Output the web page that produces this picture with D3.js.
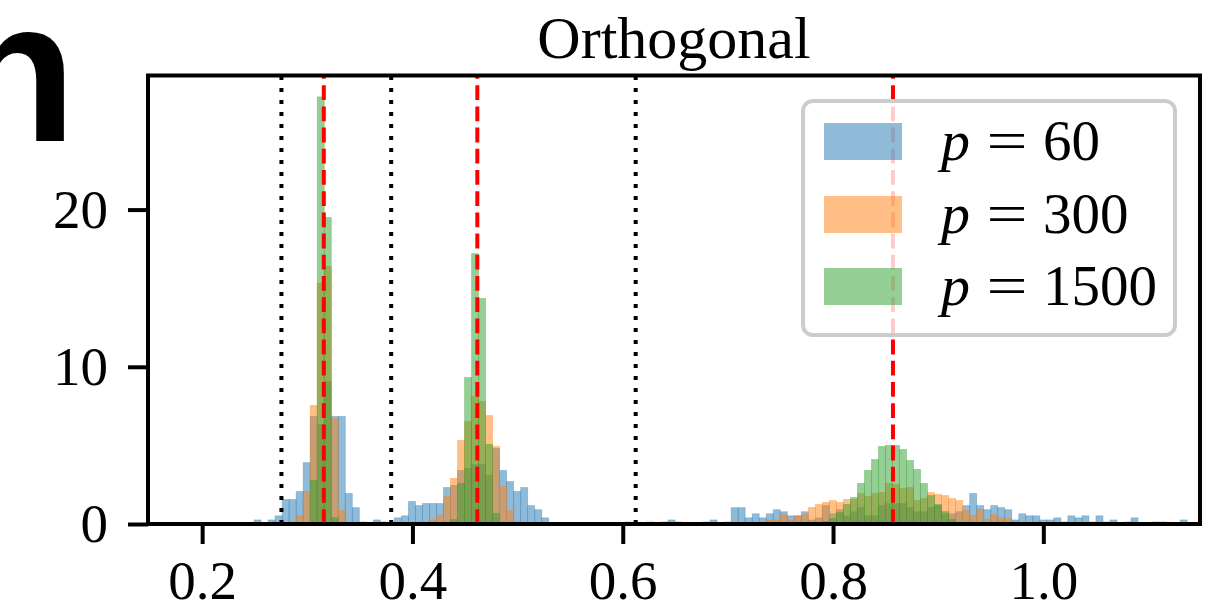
<!DOCTYPE html>
<html>
<head>
<meta charset="utf-8">
<script src="https://cdn.jsdelivr.net/npm/d3@7"></script>
<style>
  html, body { margin: 0; padding: 0; background: #fff; }
  svg { display: block; }
</style>
</head>
<body>
<svg id="chart" width="1220" height="615"></svg>
<script>
// ---------------- data ----------------
const title = "Orthogonal";
const seriesLabels = ["60", "300", "1500"];
const seriesColors = ["#1f77b4", "#ff7f0e", "#2ca02c"];
const xTicks = [0.2, 0.4, 0.6, 0.8, 1.0];
const yTicks = [0, 10, 20];
const xDomain = [0.1485, 1.149];
const yDomain = [0, 28.53];

// common histogram grid
const binLo = 0.2494;
const binW = 0.006672;

// densities, p = 60 (bins from index 0)
const p60Start = 0;
const p60 = [
  0.26, 0, 0.26, 0.52, 1.56, 1.56, 2.07, 3.9, 6.84, 6.33,
  9.06, 6.84, 6.84, 1.94, 1.04, 0.13, 0, 0.26, 0.13, 0,
  0.39, 0.52, 1.43, 1.17, 1.3, 1.3, 1.3, 2.32, 2.45, 3.4,
  3.53, 3.78, 3.78, 3.09, 4.8, 3.4, 2.7, 2.07, 2.32, 1.17,
  0.91, 0.39, 0, 0, 0, 0, 0, 0, 0, 0,
  0, 0, 0, 0.13, 0, 0, 0.13, 0, 0.13, 0.26,
  0.13, 0, 0, 0, 0.13, 0.26, 0, 0.13, 1.04, 1.04,
  0.39, 0.65, 0.39, 0.65, 0.91, 0.78, 0.52, 0.52, 0.78, 0.26,
  0.39, 1.17, 0.65, 0.91, 0.52, 0.78, 1.04, 0.52, 0.52, 1.17,
  1.3, 1.3, 1.3, 1.04, 0.78, 0.78, 1.04, 1.17, 0.65, 0.65,
  0.78, 1.17, 1.94, 1.17, 0.91, 1.17, 1.04, 0.91, 0.26, 0.65,
  0.52, 0.52, 0.26, 0.26, 0.39, 0.13, 0.52, 0.39, 0.52, 0.13,
  0.52, 0.13, 0.26, 0, 0.13, 0.39, 0, 0, 0.13, 0.13,
  0, 0, 0.26
];

// densities, p = 300 (bins from index 5)
const p300Start = 5;
const p300 = [
  0.13, 0.52, 2.07, 7.54, 15.32, 16.38, 6.71, 0.86, 0, 0,
  0, 0, 0, 0, 0, 0, 0, 0, 0.13, 0.13,
  0.26, 0.58, 1.75, 2.9, 5.31, 6.52, 8.11, 7.79, 6.9, 4.93,
  2.39, 0.86, 0.13, 0, 0, 0, 0, 0, 0, 0,
  0, 0, 0, 0, 0, 0, 0, 0, 0, 0,
  0, 0, 0, 0, 0, 0, 0, 0, 0, 0,
  0, 0, 0, 0, 0, 0, 0, 0.13, 0.26, 0.26,
  0.6, 0.26, 0.52, 0.6, 1.05, 1.24, 1.37, 1.49, 1.37, 1.56,
  1.56, 1.94, 1.75, 1.94, 2.0, 2.58, 2.52, 2.26, 2.32, 1.49,
  1.62, 2.0, 1.88, 1.81, 1.62, 1.49, 0.86, 0.54, 0.92, 0.29,
  0.6, 0.41, 0.35, 0.16, 0, 0.1, 0.13
];

// densities, p = 1500 (bins from index 8)
const p1500Start = 8;
const p1500 = [
  2.77, 27.17, 19.5, 0.41, 0, 0, 0, 0, 0, 0,
  0, 0, 0, 0, 0, 0, 0, 0, 0, 0,
  0.28, 2.58, 9.32, 17.2, 14.35, 5.06, 0.67, 0, 0, 0,
  0, 0, 0, 0, 0, 0, 0, 0, 0, 0,
  0, 0, 0, 0, 0, 0, 0, 0, 0, 0,
  0, 0, 0, 0, 0, 0, 0, 0, 0, 0,
  0, 0, 0, 0, 0, 0, 0, 0, 0, 0,
  0, 0, 0, 0.16, 0.35, 0.73, 1.24, 1.69, 2.58, 3.41,
  4.1, 4.93, 5.0, 5.0, 4.74, 4.04, 3.47, 2.58, 1.81, 1.24,
  0.79, 0.29
];

// reference lines
const dottedLines = [0.2754, 0.3798, 0.6123];
const dashedLines = [0.3157, 0.4617, 0.857];

// ---------------- drawing ----------------
const svg = d3.select("#chart");
const L = 148, R = 1200, T = 75.5, B = 524;
const x = d3.scaleLinear().domain(xDomain).range([L, R]);
const y = d3.scaleLinear().domain(yDomain).range([B, T]);

svg.append("rect").attr("width", 1220).attr("height", 615).attr("fill", "#fff");

// partial bold letter at top-left (cut-off panel label, as in the reference)
svg.append("text")
  .attr("x", -47).attr("y", 141)
  .attr("font-family", "Liberation Sans, Arial, sans-serif")
  .attr("font-weight", "bold")
  .attr("font-size", 202)
  .attr("fill", "#000")
  .text("n");

const plot = svg.append("g");
const seriesList = [
  { start: p60Start, vals: p60, color: seriesColors[0] },
  { start: p300Start, vals: p300, color: seriesColors[1] },
  { start: p1500Start, vals: p1500, color: seriesColors[2] }
];

seriesList.forEach(s => {
  const bins = s.vals.map((v, i) => ({ lo: binLo + (s.start + i) * binW, v }))
    .filter(d => d.v > 0);
  plot.append("g").selectAll("rect").data(bins).join("rect")
    .attr("x", d => x(d.lo))
    .attr("width", d => x(d.lo + binW) - x(d.lo))
    .attr("y", d => y(d.v))
    .attr("height", d => y(0) - y(d.v))
    .attr("fill", s.color)
    .attr("fill-opacity", 0.5)
    .attr("stroke", s.color)
    .attr("stroke-opacity", 0.35)
    .attr("stroke-width", 0.8);
});

// dotted black lines
plot.append("g").selectAll("line").data(dottedLines).join("line")
  .attr("x1", d => x(d)).attr("x2", d => x(d))
  .attr("y1", y(0)).attr("y2", T)
  .attr("stroke", "#000").attr("stroke-width", 4)
  .attr("stroke-dasharray", "4,8");

// dashed red lines
plot.append("g").selectAll("line").data(dashedLines).join("line")
  .attr("x1", d => x(d)).attr("x2", d => x(d))
  .attr("y1", y(0)).attr("y2", T)
  .attr("stroke", "#ff0000").attr("stroke-width", 4)
  .attr("stroke-dasharray", "14.8,6.4");

// axes
const fontSerif = "Liberation Serif, Times New Roman, serif";
const xAxis = svg.append("g").attr("transform", `translate(0,${B})`)
  .call(d3.axisBottom(x).tickValues(xTicks).tickFormat(d3.format(".1f"))
    .tickSizeInner(20).tickSizeOuter(0).tickPadding(16));
const yAxis = svg.append("g").attr("transform", `translate(${L},0)`)
  .call(d3.axisLeft(y).tickValues(yTicks).tickFormat(d3.format("d"))
    .tickSizeInner(20).tickSizeOuter(0).tickPadding(20));
[xAxis, yAxis].forEach(a => {
  a.select(".domain").remove();
  a.selectAll(".tick line").attr("stroke", "#000").attr("stroke-width", 4);
  a.selectAll(".tick text").attr("font-family", fontSerif)
    .attr("font-size", 55).attr("fill", "#000");
});

// spines
svg.append("rect")
  .attr("x", L).attr("y", T).attr("width", R - L).attr("height", B - T)
  .attr("fill", "none").attr("stroke", "#000").attr("stroke-width", 4);

// title
svg.append("text")
  .attr("x", (L + R) / 2).attr("y", 58)
  .attr("text-anchor", "middle")
  .attr("font-family", fontSerif).attr("font-size", 60)
  .attr("fill", "#000")
  .text(title);

// legend
const lg = svg.append("g");
lg.append("rect")
  .attr("x", 803).attr("y", 101).attr("width", 372).attr("height", 234)
  .attr("rx", 10).attr("ry", 10)
  .attr("fill", "#fff").attr("fill-opacity", 0.8)
  .attr("stroke", "#cccccc").attr("stroke-width", 4);
const rowBase = [160, 233, 305];
seriesLabels.forEach((lab, i) => {
  lg.append("rect")
    .attr("x", 824).attr("y", rowBase[i] - 37).attr("width", 78).attr("height", 37)
    .attr("fill", seriesColors[i]).attr("fill-opacity", 0.5);
  const g = lg.append("g").attr("font-family", fontSerif).attr("fill", "#000");
  g.append("text").attr("x", 941).attr("y", rowBase[i])
    .attr("font-size", 58).attr("font-style", "italic").text("p");
  g.append("text")
    .attr("transform", `translate(1007,${rowBase[i]}) scale(1.3,1)`)
    .attr("text-anchor", "middle").attr("font-size", 56).text("=");
  g.append("text").attr("x", 1043).attr("y", rowBase[i])
    .attr("font-size", 57).text(lab);
});
</script>
</body>
</html>
